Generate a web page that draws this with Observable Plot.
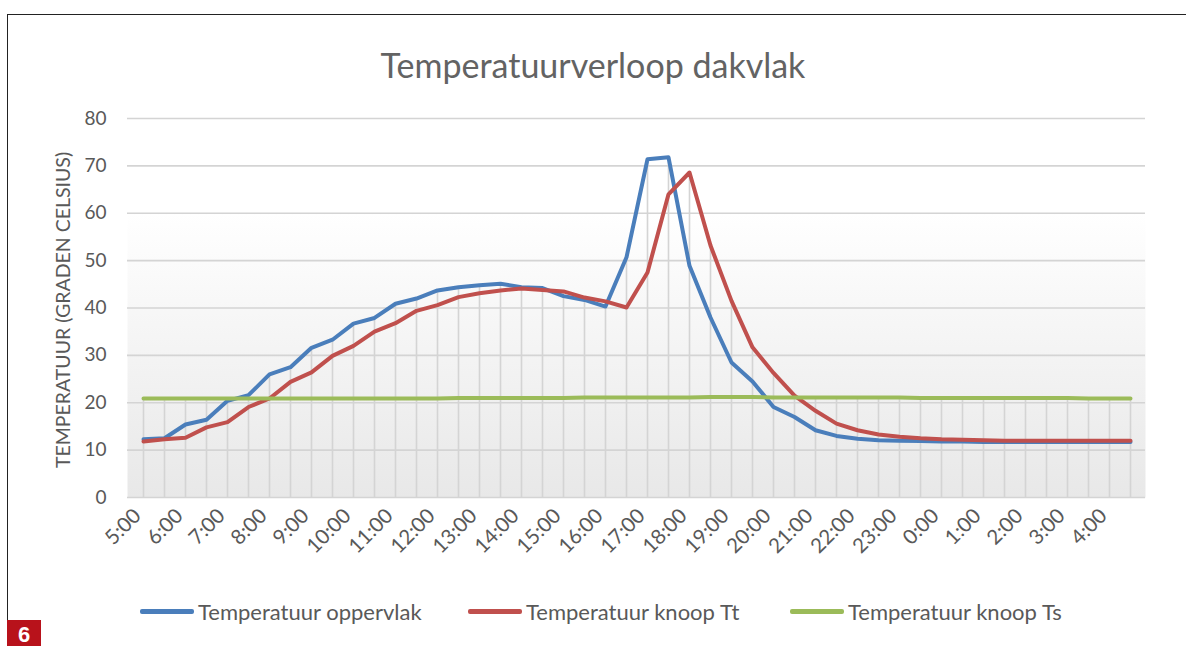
<!DOCTYPE html>
<html>
<head>
<meta charset="utf-8">
<script src="https://cdn.jsdelivr.net/npm/d3@7"></script>
<script src="https://cdn.jsdelivr.net/npm/@observablehq/plot@0.6"></script>
<style>
  html, body { margin: 0; padding: 0; background: #fff; }
  body { width: 1186px; height: 646px; position: relative; overflow: hidden; font-family: Lato, "Open Sans", sans-serif; }
  #border-top { position: absolute; left: 7px; top: 14px; width: 1179px; height: 0; border-top: 1.5px solid #222; }
  #border-left { position: absolute; left: 7px; top: 14px; width: 0; height: 606px; border-left: 1.5px solid #222; }
  #badge { position: absolute; left: 7px; top: 620px; width: 34px; height: 26px; background: #b8121b; color: #fff; font: bold 22px "Liberation Sans", Arial, sans-serif; text-align: center; line-height: 30px; }
  #title { position: absolute; left: 0; width: 1186px; top: 44px; text-align: center; font-size: 34px; color: #636363; }
  #ylabel { position: absolute; left: 62px; top: 310px; transform: translate(-50%, -50%) rotate(-90deg); white-space: nowrap; font-size: 19.5px; color: #595959; }
  #chart { position: absolute; left: 0; top: 0; }
  #legend { position: absolute; top: 598px; left: 0; width: 1186px; height: 26px; font-size: 22px; color: #595959; }
  .item { position: absolute; top: 0; display: flex; align-items: center; height: 26px; }
  .swatch { width: 54px; height: 5px; border-radius: 2px; margin-right: 4px; }
</style>
</head>
<body>
<div id="border-top"></div>
<div id="border-left"></div>
<div id="chart"></div>
<div id="title">Temperatuurverloop dakvlak</div>
<div id="ylabel">TEMPERATUUR (GRADEN CELSIUS)</div>
<div id="legend"></div>
<div id="badge">6</div>
<script>
// ---- data ----
const times = ["5:00","5:30","6:00","6:30","7:00","7:30","8:00","8:30","9:00","9:30",
  "10:00","10:30","11:00","11:30","12:00","12:30","13:00","13:30","14:00","14:30",
  "15:00","15:30","16:00","16:30","17:00","17:30","18:00","18:30","19:00","19:30",
  "20:00","20:30","21:00","21:30","22:00","22:30","23:00","23:30","0:00","0:30",
  "1:00","1:30","2:00","2:30","3:00","3:30","4:00","4:30"];
const hourLabels = ["5:00","6:00","7:00","8:00","9:00","10:00","11:00","12:00","13:00","14:00",
  "15:00","16:00","17:00","18:00","19:00","20:00","21:00","22:00","23:00","0:00",
  "1:00","2:00","3:00","4:00"];
const oppervlak = [12.3,12.5,15.4,16.4,20.4,21.6,26.0,27.5,31.6,33.3,
  36.7,37.9,40.9,42.0,43.7,44.4,44.8,45.1,44.4,44.2,
  42.5,41.7,40.3,50.7,71.4,71.8,48.9,38.0,28.5,24.5,
  19.1,17.0,14.2,13.0,12.4,12.1,12.0,11.9,11.8,11.8,
  11.7,11.7,11.7,11.7,11.7,11.7,11.7,11.7];
const knoopTt = [11.8,12.3,12.6,14.8,15.9,19.1,20.9,24.4,26.4,29.9,
  32.0,35.0,36.8,39.4,40.6,42.3,43.1,43.7,44.1,43.8,
  43.5,42.2,41.4,40.1,47.5,64.0,68.6,53.2,41.5,31.7,
  26.3,21.5,18.3,15.6,14.2,13.3,12.8,12.5,12.3,12.2,
  12.1,12.0,12.0,12.0,12.0,12.0,12.0,12.0];
const knoopTs = [20.9,20.9,20.9,20.9,20.9,20.9,20.9,20.9,20.9,20.9,
  20.9,20.9,20.9,20.9,20.9,21.0,21.0,21.0,21.0,21.0,
  21.0,21.1,21.1,21.1,21.1,21.1,21.1,21.2,21.2,21.2,
  21.1,21.1,21.1,21.1,21.1,21.1,21.1,21.0,21.0,21.0,
  21.0,21.0,21.0,21.0,21.0,20.9,20.9,20.9];
const yTicks = [0,10,20,30,40,50,60,70,80];
const seriesNames = ["Temperatuur oppervlak","Temperatuur knoop Tt","Temperatuur knoop Ts"];
const seriesColors = ["#4a7ebb","#c0504d","#9bbb59"];

// ---- tables ----
const rowsOf = (vals) => vals.map((v, i) => ({t: times[i], v}));
const drops = times.map((t, i) => ({t, v: Math.max(oppervlak[i], knoopTt[i], knoopTs[i])}));

const gradientDefs = () => {
  const defs = document.createElementNS("http://www.w3.org/2000/svg", "defs");
  defs.innerHTML = '<linearGradient id="bgGrad" x1="0" y1="0" x2="0" y2="1">' +
    '<stop offset="0" stop-color="#ffffff"/><stop offset="0.25" stop-color="#ffffff"/>' +
    '<stop offset="1" stop-color="#e8e8e8"/></linearGradient>';
  return defs;
};

const plot = Plot.plot({
  width: 1186,
  height: 560,
  marginTop: 118,
  marginBottom: 63,
  marginLeft: 127,
  marginRight: 41,
  style: {fontFamily: "Lato, 'Open Sans', sans-serif", color: "#595959", background: "transparent"},
  x: {type: "point", domain: times, padding: 0.5, label: null},
  y: {domain: [0, 80], label: null},
  marks: [
    gradientDefs,
    Plot.frame({fill: "url(#bgGrad)", stroke: null}),
    Plot.gridY(yTicks, {stroke: "#d4d4d4", strokeOpacity: 1, strokeWidth: 1.6}),
    Plot.ruleX(drops, {x: "t", y1: 0, y2: "v", stroke: "#d4d4d4", strokeWidth: 1.6}),
    Plot.axisY({ticks: yTicks, tickSize: 0, tickPadding: 21, fontSize: 19, fill: "#595959", label: null}),
    Plot.axisX({ticks: hourLabels, tickSize: 0, tickRotate: -45, tickPadding: 15, dx: -6, fontSize: 20.5, fill: "#595959", label: null}),
    Plot.line(rowsOf(oppervlak), {x: "t", y: "v", stroke: seriesColors[0], strokeWidth: 4, strokeLinejoin: "round", strokeLinecap: "round"}),
    Plot.line(rowsOf(knoopTt), {x: "t", y: "v", stroke: seriesColors[1], strokeWidth: 4, strokeLinejoin: "round", strokeLinecap: "round"}),
    Plot.line(rowsOf(knoopTs), {x: "t", y: "v", stroke: seriesColors[2], strokeWidth: 4, strokeLinejoin: "round", strokeLinecap: "round"})
  ]
});
document.getElementById("chart").appendChild(plot);

// ---- legend ----
const legendLefts = [140, 468, 790];
const legend = document.getElementById("legend");
seriesNames.forEach((name, i) => {
  const item = document.createElement("div");
  item.className = "item";
  item.style.left = legendLefts[i] + "px";
  item.innerHTML = `<span class="swatch" style="background:${seriesColors[i]}"></span><span>${name}</span>`;
  legend.appendChild(item);
});
</script>
</body>
</html>
